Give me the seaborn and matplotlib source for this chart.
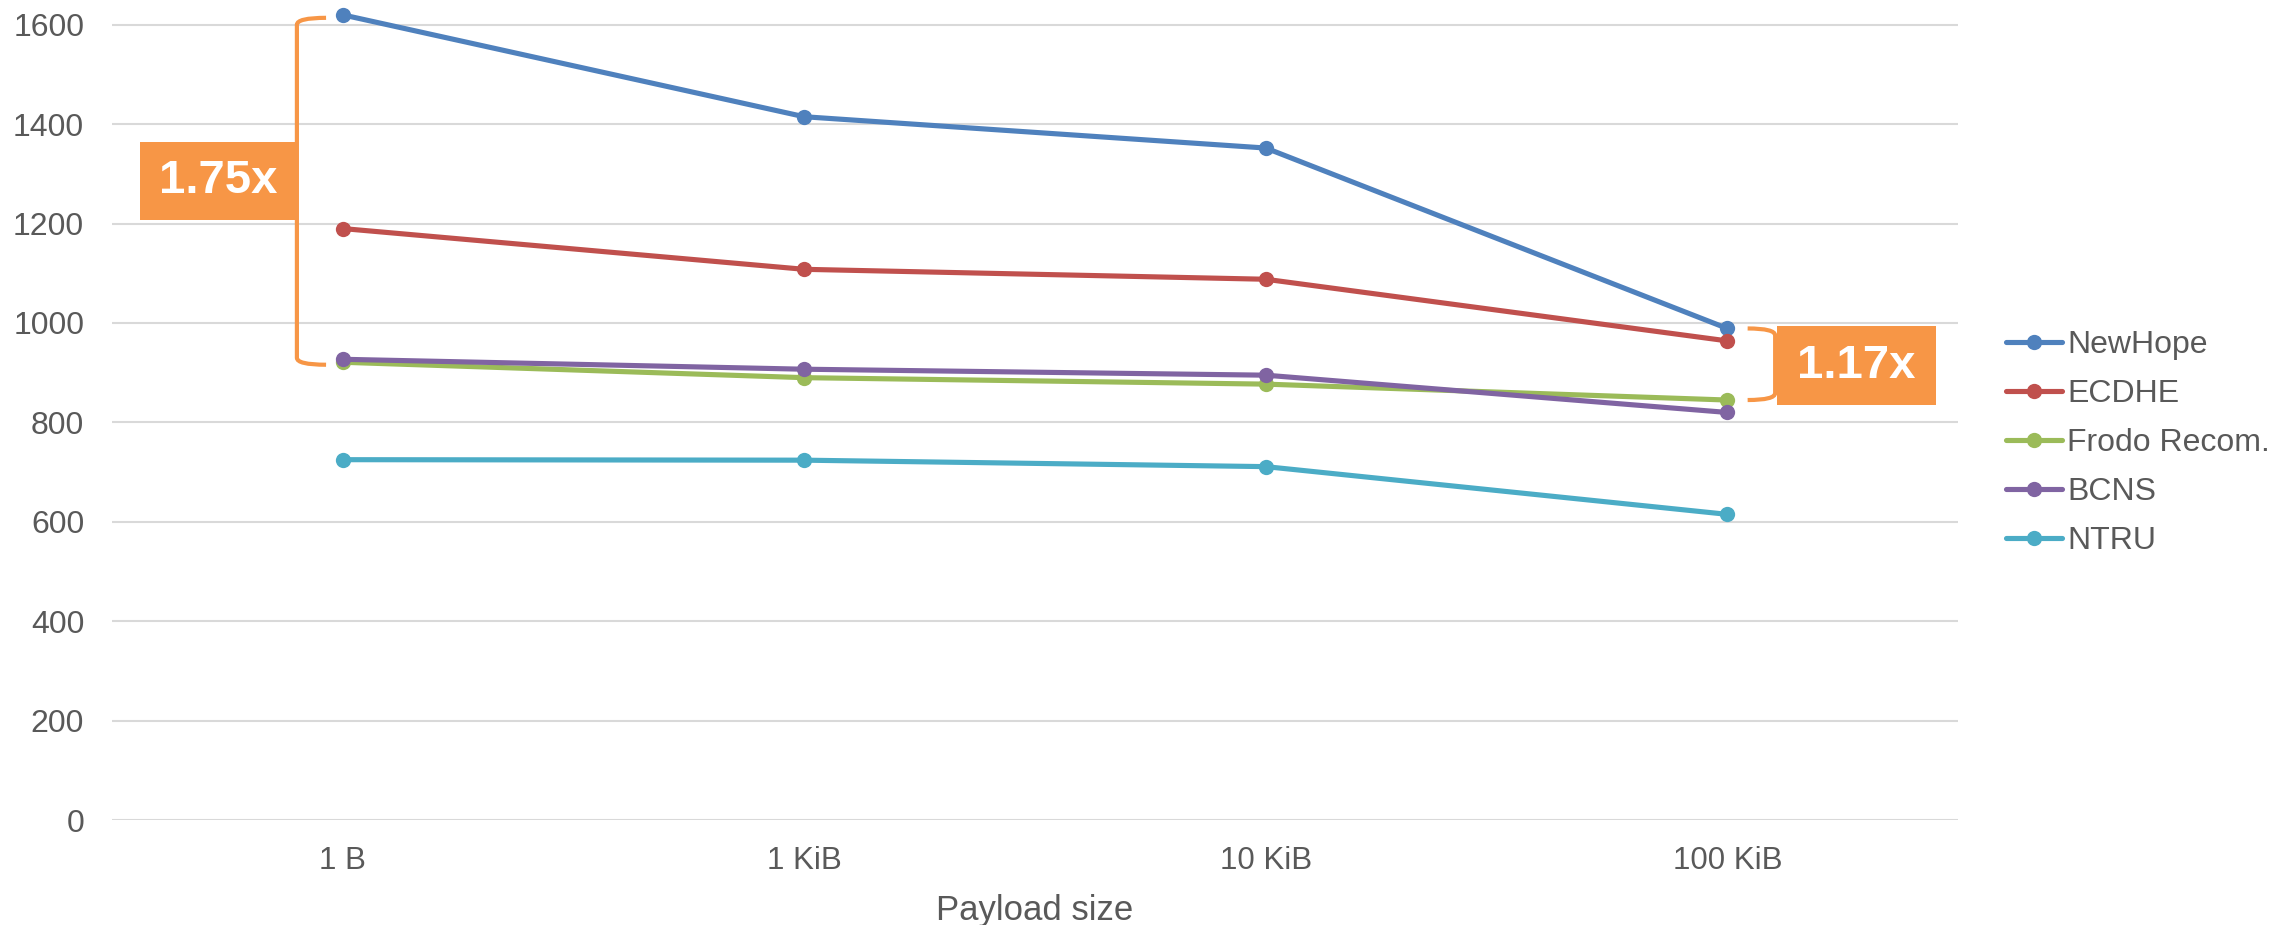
import pandas as pd
import matplotlib.pyplot as plt
import seaborn as sns
from matplotlib.patches import Rectangle, PathPatch
from matplotlib.path import Path
from matplotlib.transforms import blended_transform_factory

# valeurs
payload = ["1 B", "1 KiB", "10 KiB", "100 KiB"]
newhope = [1620, 1415, 1352, 989]
ecdhe = [1190, 1108, 1088, 964]
frodo = [921, 890, 877, 845]
bcns = [927, 907, 895, 820]
ntru = [725, 724, 711, 615]

series = ["NewHope", "ECDHE", "Frodo Recom.", "BCNS", "NTRU"]
colors = ["#4F81BD", "#C0504D", "#9BBB59", "#8064A2", "#4BACC6"]
orange = "#F79646"
grey = "#595959"

df = pd.DataFrame({
    "payload": payload * 5,
    "value": newhope + ecdhe + frodo + bcns + ntru,
    "scheme": [s for s in series for _ in payload],
})

sns.set_style("white")
plt.rcParams["font.family"] = ["Liberation Sans", "DejaVu Sans"]

fig = plt.figure(figsize=(22.7, 9.25), dpi=100)
ax = fig.add_axes([0.0493, 0.1135, 0.8133, 0.8812])

sns.lineplot(data=df, x="payload", y="value", hue="scheme", hue_order=series,
             palette=colors, marker="o", markersize=11, markeredgewidth=0,
             linewidth=3.7, sort=False, ax=ax)

ax.set_xlim(-0.5, 3.5)
ax.set_ylim(0, 1640)
ax.set_yticks(range(0, 1601, 200))
ax.grid(axis="y", color="#D9D9D9", linewidth=1.5)
ax.grid(axis="x", visible=False)
ax.set_axisbelow(True)
for sp in ax.spines.values():
    sp.set_visible(False)
ax.tick_params(axis="both", length=0, labelcolor=grey)
ax.tick_params(axis="y", pad=20, labelsize=23)
ax.tick_params(axis="x", pad=19, labelsize=22.5)
ax.set_xlabel("Payload size", fontsize=25, color=grey, labelpad=13)
ax.set_ylabel("")

# légende
handles, labels = ax.get_legend_handles_labels()
ax.legend(handles, labels, loc="center left", bbox_to_anchor=(0.8765, 0.521),
          bbox_transform=fig.transFigure, frameon=False, fontsize=23,
          labelcolor=grey, handlelength=1.75, handletextpad=0.18,
          labelspacing=0.6, borderpad=0)

# crochets et encadrés des ratios
tr = blended_transform_factory(ax.transAxes, ax.transData)


def bracket(x_line, x_end, top, bottom):
    r = 14
    verts = [(x_end, top), (x_line, top), (x_line, top - r),
             (x_line, bottom + r), (x_line, bottom), (x_end, bottom)]
    codes = [Path.MOVETO, Path.CURVE3, Path.CURVE3,
             Path.LINETO, Path.CURVE3, Path.CURVE3]
    ax.add_patch(PathPatch(Path(verts, codes), transform=tr, fill=False,
                           edgecolor=orange, linewidth=3, clip_on=False))


def ratio_box(x0, width, ymid, txt):
    h = 158
    ax.add_patch(Rectangle((x0, ymid - h / 2), width, h, transform=tr,
                           facecolor=orange, edgecolor="none", clip_on=False,
                           zorder=3))
    ax.text(x0 + width / 2, ymid, txt, transform=tr, ha="center", va="center",
            color="white", fontsize=34, fontweight="bold", zorder=4)


bracket(0.1002, 0.116, newhope[0] - 6, frodo[0] - 5)
ratio_box(0.0152, 0.085, 1286, "1.75x")

bracket(0.9009, 0.886, newhope[3], frodo[3])
ratio_box(0.902, 0.086, 914, "1.17x")

plt.savefig("out.png", dpi=100)
